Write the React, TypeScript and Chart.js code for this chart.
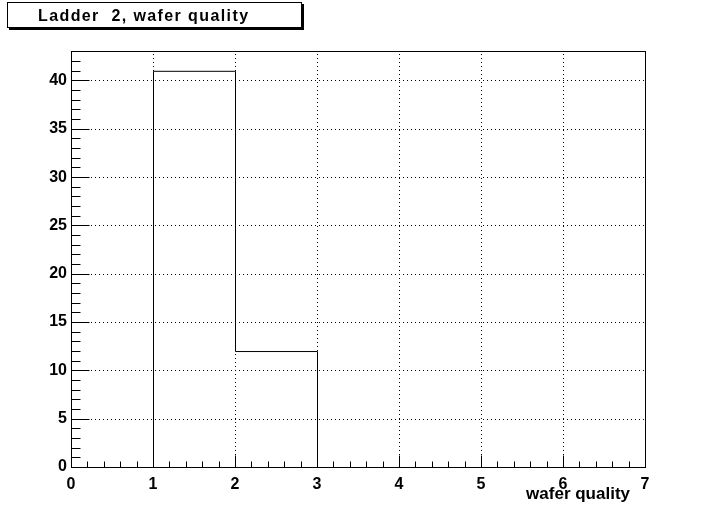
import { useEffect, useRef } from "react"
import { Chart, registerables } from "chart.js"

Chart.register(...registerables)

// histogram bins (lower edges) and their contents
const binLowEdges = [0, 1, 2, 3, 4, 5, 6]
const binCounts = [0, 41, 12, 0, 0, 0, 0]
const xMax = 7
const yMax = 43.05
const xTickValues = [0, 1, 2, 3, 4, 5, 6, 7]
const yTickValues = [0, 5, 10, 15, 20, 25, 30, 35, 40]

const histTitle = "Ladder  2, wafer quality"
const xAxisTitle = "wafer quality"

const FONT = '"Liberation Sans", Arial, Helvetica, sans-serif'

// ROOT-style frame, inside ticks, dotted grid, title box and axis label
const rootFramePlugin = {
  id: "rootFrame",
  beforeDatasetsDraw(chart: Chart) {
    const { ctx, chartArea } = chart
    const { left, right, top, bottom } = chartArea
    const x = chart.scales.x
    const y = chart.scales.y
    ctx.save()
    ctx.strokeStyle = "#000"
    ctx.lineWidth = 1
    ctx.setLineDash([1, 3])
    xTickValues.forEach((v) => {
      if (v <= 0 || v >= xMax) return
      const px = Math.round(x.getPixelForValue(v)) + 0.5
      ctx.beginPath()
      ctx.moveTo(px, bottom)
      ctx.lineTo(px, top)
      ctx.stroke()
    })
    yTickValues.forEach((v) => {
      if (v <= 0) return
      const py = Math.round(y.getPixelForValue(v)) + 0.5
      ctx.beginPath()
      ctx.moveTo(left, py)
      ctx.lineTo(right, py)
      ctx.stroke()
    })
    ctx.restore()
  },
  // shift the outline half a pixel so the 1px line stays sharp
  beforeDatasetDraw(chart: Chart) {
    chart.ctx.save()
    chart.ctx.translate(0.5, 0.5)
  },
  afterDatasetDraw(chart: Chart) {
    chart.ctx.restore()
  },
  afterDraw(chart: Chart) {
    const { ctx, chartArea } = chart
    const { left, right, top, bottom } = chartArea
    const x = chart.scales.x
    const y = chart.scales.y
    ctx.save()
    ctx.strokeStyle = "#000"
    ctx.lineWidth = 1
    ctx.setLineDash([])
    // frame
    ctx.strokeRect(Math.round(left) + 0.5, Math.round(top) + 0.5, Math.round(right - left), Math.round(bottom - top))

    // x ticks: 4 minors per unit
    const by = Math.round(bottom) + 0.5
    for (let i = 0; i <= xMax * 5; i++) {
      const v = i / 5
      const px = Math.round(x.getPixelForValue(v)) + 0.5
      const len = i % 5 === 0 ? 12 : 6
      ctx.beginPath()
      ctx.moveTo(px, by)
      ctx.lineTo(px, by - len)
      ctx.stroke()
    }
    // y ticks: minor every 1
    const lx = Math.round(left) + 0.5
    for (let v = 0; v <= Math.floor(yMax); v++) {
      const py = Math.round(y.getPixelForValue(v)) + 0.5
      const len = v % 5 === 0 ? 18 : 9
      ctx.beginPath()
      ctx.moveTo(lx, py)
      ctx.lineTo(lx + len, py)
      ctx.stroke()
    }

    // axis title
    ctx.fillStyle = "#000"
    ctx.font = `bold 17px ${FONT}`
    ctx.textAlign = "right"
    ctx.textBaseline = "alphabetic"
    ctx.fillText(xAxisTitle, 630, 499)

    // title box with shadow
    ctx.fillStyle = "#000"
    ctx.fillRect(9, 4, 295, 26)
    ctx.fillStyle = "#fff"
    ctx.fillRect(7, 2, 295, 26)
    ctx.strokeRect(7.5, 2.5, 294, 25)
    ctx.fillStyle = "#000"
    ctx.font = `bold 16px ${FONT}`
    ctx.textAlign = "left"
    ;(ctx as any).letterSpacing = "1.4px"
    ctx.fillText(histTitle, 38, 21)
    ctx.restore()
  },
}

export default function App() {
  const chartRef = useRef<HTMLCanvasElement>(null)
  const chartInstance = useRef<Chart | null>(null)

  useEffect(() => {
    if (!chartRef.current) return
    if (chartInstance.current) chartInstance.current.destroy()
    const ctx = chartRef.current.getContext("2d")
    if (!ctx) return

    // step outline: one point per lower edge, plus the upper edge of the last bin
    const points = binLowEdges.map((e, i) => ({ x: e, y: binCounts[i] }))
    points.push({ x: xMax, y: binCounts[binCounts.length - 1] })

    chartInstance.current = new Chart(ctx, {
      type: "line",
      data: {
        datasets: [
          {
            label: histTitle,
            data: points,
            stepped: "before",
            borderColor: "#000",
            borderWidth: 1,
            pointRadius: 0,
            fill: false,
          },
        ],
      },
      options: {
        animation: false,
        responsive: false,
        devicePixelRatio: 1,
        layout: { padding: { top: 51, right: 72, left: 0, bottom: 0 } },
        plugins: {
          legend: { display: false },
          tooltip: { enabled: false },
        },
        scales: {
          x: {
            type: "linear",
            min: 0,
            max: xMax,
            grid: { display: false, drawTicks: false },
            border: { display: false },
            afterBuildTicks: (scale: any) => {
              scale.ticks = xTickValues.map((v) => ({ value: v }))
            },
            afterFit: (scale: any) => {
              scale.height = 52
            },
            ticks: {
              color: "#000",
              padding: 8,
              maxRotation: 0,
              autoSkip: false,
              font: { family: FONT, size: 16, weight: "bold" },
            },
          },
          y: {
            type: "linear",
            min: 0,
            max: yMax,
            grid: { display: false, drawTicks: false },
            border: { display: false },
            afterBuildTicks: (scale: any) => {
              scale.ticks = yTickValues.map((v) => ({ value: v }))
            },
            afterFit: (scale: any) => {
              scale.width = 71
            },
            ticks: {
              color: "#000",
              padding: 4,
              font: { family: FONT, size: 16, weight: "bold" },
            },
          },
        },
      },
      plugins: [rootFramePlugin],
    })

    return () => {
      if (chartInstance.current) {
        chartInstance.current.destroy()
        chartInstance.current = null
      }
    }
  }, [])

  return (
    <div style={{ position: "absolute", left: 0, top: 0, width: 717, height: 519, background: "#fff" }}>
      <canvas ref={chartRef} width={717} height={519} />
    </div>
  )
}
